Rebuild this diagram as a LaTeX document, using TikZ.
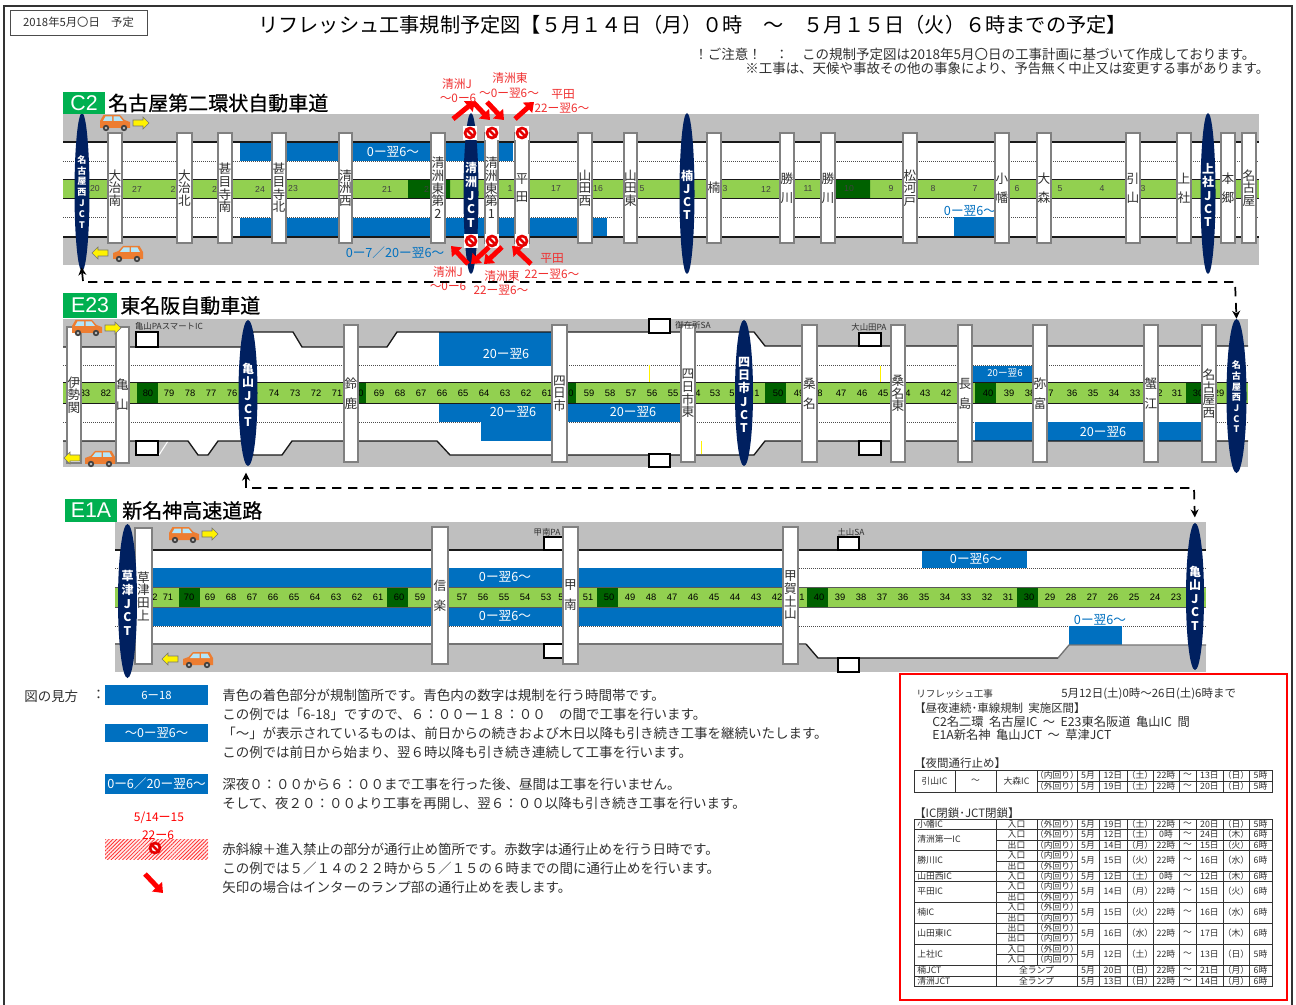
\documentclass[tikz,border=0pt]{standalone}
\usepackage{fontspec}
\setmainfont{Noto Sans CJK JP}
\newfontfamily\lib{Liberation Sans}
\newfontfamily\titlef[FakeBold=0.6]{Noto Sans CJK JP}
\usetikzlibrary{shapes.geometric,arrows.meta,patterns.meta}
\definecolor{panelgray}{HTML}{BFBFBF}
\definecolor{roadblue}{HTML}{0070C0}
\definecolor{bandgreen}{HTML}{92D050}
\definecolor{darkgreen}{HTML}{006100}
\definecolor{jctnavy}{HTML}{002060}
\definecolor{tagreen}{HTML}{00B050}
\definecolor{carorange}{HTML}{ED7D31}
\definecolor{redtxt}{HTML}{F03030}
\definecolor{txtc}{HTML}{303030}
\newcounter{nd}
\tikzset{
 txt/.style={inner sep=0pt,text=txtc,font=\fontsize{10.12}{12}\selectfont},
 postbox/.style={rectangle,draw=black!50,fill=white,line width=.9pt,inner sep=0pt,align=center,text=txtc,execute at begin node={\lineskiplimit=-20pt\relax}},
 jctshape/.style={ellipse,fill=jctnavy,inner sep=0pt,draw=none},
 jcttext/.style={inner sep=0pt,align=center,text=white,execute at begin node={\lineskiplimit=-20pt\relax}},
 numtxt/.style={txt,font=\lib\fontsize{7}{8}\selectfont,text=black},
 numsmall/.style={txt,font=\lib\fontsize{6.5}{8}\selectfont,text=black!75},
 bluetxt/.style={txt,text=white,font=\fontsize{9.5}{11}\selectfont},
 bluetxts/.style={txt,text=white,font=\fontsize{7.2}{9}\selectfont},
 bluelab/.style={txt,text=roadblue,font=\fontsize{9.5}{11}\selectfont},
 redlab/.style={txt,text=redtxt,font=\fontsize{8.8}{10}\selectfont},
 palab/.style={txt,font=\fontsize{6.3}{8}\selectfont},
 tagtxt/.style={txt,text=white,font=\lib\fontsize{16}{18}\selectfont},
 titletxt/.style={txt,anchor=west,text=black,font=\titlef\fontsize{15}{18}\selectfont},
 legtxt/.style={txt,anchor=west},
 boxtxt/.style={txt,anchor=west,font=\fontsize{8.6}{10}\selectfont},
 cell/.style={txt,font=\fontsize{6.6}{7}\selectfont},
 tline/.style={line width=.45pt,draw=black!80},
 roadline/.style={line width=1pt,draw=black!90},
 dotline/.style={line width=.5pt,densely dotted,draw=black!70},
 sabox/.style={fill=white,draw=black,line width=1pt},
 dashlink/.style={line width=1.3pt,dash pattern=on 7pt off 5pt,draw=black},
 solidlink/.style={line width=1.3pt,draw=black,-{Stealth[length=6pt,width=6pt]}},
 fatarrow/.style={line width=3.7pt,draw=red,-{Triangle[width=10pt,length=6.5pt]}},
}
\newcommand\tx[3][]{\stepcounter{nd}\node[txt,#1] (t\arabic{nd}) at (#2) {#3};}
\newcommand\post[7]{\node[postbox,minimum width={(#3-#2)*0.75pt},minimum height={(#5-#4)*0.75pt},font=\fontsize{9.5}{#6}\selectfont] (#1) at ({(#2+#3)/2},{(#4+#5)/2}) {#7};}
\newcommand\jct[9]{\node[jctshape,minimum width={#4*0.75pt},minimum height={#5*0.75pt}] (#1) at (#2,#3) {};
 \node[jcttext,font=\bfseries\fontsize{#7}{#8}\selectfont] (#1t) at (#2,#6) {#9};}
\newcommand\car[3]{\begin{scope}[shift={(#1,#2)},xscale=#3]
 \fill[carorange] (-15,6)--(-15,-1)--(-11.5,-7)--(5,-7)--(9.5,-2)--(15,0)--(15,6)--cycle;
 \fill[cyan!30] (-12,-1)--(-9.5,-5.5)--(-3,-5.5)--(-3,-1)--cycle;
 \fill[cyan!30] (-1.5,-1)--(-1.5,-5.5)--(4.5,-5.5)--(8,-1)--cycle;
 \foreach \cx in {-9,9}{\fill[black!75] (\cx,6) circle (3.2);\fill[black!25] (\cx,6) circle (1.3);}
 \end{scope}}
\newcommand\yarrow[3]{\begin{scope}[shift={(#1,#2)},xscale=#3]
 \draw[black!55,fill=yellow,line width=.4pt] (-8,-3)--(2,-3)--(2,-6)--(8,0)--(2,6)--(2,3)--(-8,3)--cycle;
 \end{scope}}
\newcommand\noentry[2]{\begin{scope}[shift={(#1,#2)}]
 \fill[white] (-7,-7) rectangle (7,7);
 \draw[red!90!black,line width=2pt,fill=white] (0,0) circle (5);
 \draw[red!90!black,line width=2pt] (-3.6,-3.6)--(3.6,3.6);
 \end{scope}}
\newcommand\redarrow[2]{\stepcounter{nd}\coordinate (ra\arabic{nd}) at (#1);\coordinate (rb\arabic{nd}) at (#2);\draw[fatarrow] (ra\arabic{nd})--(rb\arabic{nd});}
\newcommand\dates[8]{\tx[cell]{1088,#1}{#2}\tx[cell]{1113,#1}{#3}\tx[cell]{1140,#1}{（#4）}\tx[cell]{1166,#1}{#5}\tx[cell]{1187.5,#1}{〜}\tx[cell]{1209.5,#1}{#6}\tx[cell]{1236,#1}{（#7）}\tx[cell]{1260.5,#1}{#8}}
\newcommand\ramp[3]{\tx[cell]{1016.5,#1}{#2}\tx[cell]{1057,#1}{（#3）}}
\begin{document}
\begin{tikzpicture}[x=0.75pt,y=-0.75pt]
\useasboundingbox (0,0) rectangle (1296,1005);
\fill[white] (0,0) rectangle (1296,1005);
\draw[black!80,line width=1.2pt] (4,1005)--(4,6)--(1292,6)--(1292,1005);
% header
\node[rectangle,draw=black!70,line width=.5pt,minimum width=102.75pt,minimum height=18.75pt,inner sep=0pt,font=\fontsize{8.5}{10}\selectfont,text=txtc] (datebox) at (78.5,22.5) {2018年5月〇日　予定};
\tx[font=\fontsize{15.15}{18}\selectfont,anchor=west,text=black]{258,25}{リフレッシュ工事規制予定図【５月１４日（月）０時　〜　５月１５日（火）６時までの予定】}
\tx[legtxt]{694,54}{！ご注意！　：　この規制予定図は2018年5月〇日の工事計画に基づいて作成しております。}
\tx[legtxt]{745,68}{※工事は、天候や事故その他の事象により、予告無く中止又は変更する事があります。}
%%%%% C2
\fill[panelgray] (63,114) rectangle (1259,265);
\fill[white] (63,142) rectangle (1259,237);
\draw[dotline] (63,161)--(1259,161) (63,217)--(1259,217);
\fill[roadblue] (240,142) rectangle (513,161);
\fill[roadblue] (240,218) rectangle (607,237);
\fill[roadblue] (954,217) rectangle (996,236);
\draw[roadline] (63,142)--(1259,142) (63,237)--(1259,237);
\fill[bandgreen] (63,180) rectangle (1259,198);
\fill[darkgreen] (408,180) rectangle (450,198) (836,180) rectangle (870,198);
\draw[roadline] (63,179.5)--(1259,179.5) (63,198.5)--(1259,198.5);
\foreach \n/\xx in {20/95,27/137,2/173,2/214.5,24/260,23/293,21/387,2/426.5,1/510,17/556,16/598,5/642,3/725,12/766,11/808,10/849,9/891,8/933,7/975,6/1017,5/1060,4/1102,3/1143}{\tx[numsmall]{\xx,189}{\n}}
\tx[bluetxt]{393,152}{0ー翌6〜}
\tx[bluelab]{395,253}{0ー7／20ー翌6〜}
\tx[bluelab]{970,211}{0ー翌6〜}
\post{cA}{108}{122}{133}{243}{9.5pt}{大\\治\\南}
\post{cB}{177}{192}{133}{243}{9.5pt}{大\\治\\北}
\post{cC}{218}{232}{133}{243}{9.5pt}{甚\\目\\寺\\南}
\post{cD}{272}{286}{133}{243}{9.5pt}{甚\\目\\寺\\北}
\post{cE}{339}{352}{133}{243}{9.5pt}{清\\洲\\西}
\post{cF}{431}{445}{133}{243}{9.5pt}{清\\洲\\東\\第\\2}
\post{cG}{485}{498}{133}{243}{9.5pt}{清\\洲\\東\\第\\1}
\post{cH}{515}{529}{133}{243}{14pt}{平\\田}
\post{cI}{578}{592}{133}{243}{9.5pt}{山\\田\\西}
\post{cJ}{624}{637}{133}{243}{9.5pt}{山\\田\\東}
\post{cK}{707}{721}{133}{243}{9.5pt}{楠}
\post{cL}{780}{794}{133}{243}{14pt}{勝\\川}
\post{cM}{821}{835}{133}{243}{14pt}{勝\\川}
\post{cN}{903}{917}{133}{243}{9.5pt}{松\\河\\戸}
\post{cO}{995}{1009}{133}{243}{14pt}{小\\幡}
\post{cP}{1037}{1051}{133}{243}{14pt}{大\\森}
\post{cQ}{1126}{1140}{133}{243}{14pt}{引\\山}
\post{cR}{1177}{1191}{133}{243}{14pt}{上\\社}
\post{cS}{1221}{1235}{133}{243}{14pt}{本\\郷}
\post{cT}{1242}{1256}{133}{243}{9.5pt}{名\\古\\屋}
\jct{cwest}{82}{192}{15}{158}{192}{6.8}{8.2pt}{名\\古\\屋\\西\\J\\C\\T}
\jct{ckiyosu}{471}{193.5}{15}{161}{195}{9}{10.4pt}{清\\洲\\J\\C\\T}
\jct{ckusu}{687}{193.5}{15}{161}{195}{9}{9.9pt}{楠\\J\\C\\T}
\jct{ckami}{1208}{193.5}{15}{161}{195}{9}{10.1pt}{上\\社\\J\\C\\T}
\foreach \px in {470,492,522}{\noentry{\px}{133}}
\foreach \px in {471,492,522}{\noentry{\px}{241}}
\redarrow{453,119}{475,101}
\redarrow{473,102}{490,120}
\redarrow{487,102}{504,120}
\redarrow{515,119}{534,102}
\redarrow{468,264}{451,246}
\redarrow{489,247}{471,264}
\redarrow{502,247}{484,264}
\redarrow{531,264}{512,246}
\tx[redlab]{457,84}{清洲J}
\tx[redlab]{458,98}{〜0ー6}
\tx[redlab]{510,78}{清洲東}
\tx[redlab]{509,93}{〜0ー翌6〜}
\tx[redlab]{563,94}{平田}
\tx[redlab]{562,108}{22ー翌6〜}
\tx[redlab]{448,272}{清洲J}
\tx[redlab]{448,286}{〜0ー6}
\tx[redlab]{502,276}{清洲東}
\tx[redlab]{501,290}{22ー翌6〜}
\tx[redlab]{552,258}{平田}
\tx[redlab]{552,274}{22ー翌6〜}
\fill[tagreen] (63,92) rectangle (105,114);
\tx[tagtxt]{84,103}{C2}
\tx[titletxt]{108,103}{名古屋第二環状自動車道}
\car{115}{122}{1}
\yarrow{141}{123}{1}
\yarrow{100}{253}{-1}
\car{128}{253}{-1}
%%%%% E23
\fill[panelgray] (63,319) rectangle (1248,467);
\fill[white] (63,347)--(243,347)--(253,332)--(293,332)--(302,347)--(387,347)--(397,332)--(754,332)--(765,346)--(1248,346)--(1248,441)--(765,441)--(754,455)--(450,455)--(437,441)--(292,441)--(282,455)--(253,455)--(243,441)--(218,441)--(208,455)--(198,455)--(188,441)--(63,441)--cycle;
\draw[white,line width=.8pt] (159,455)--(168,441);
\draw[dotline] (63,365)--(1248,365) (63,422)--(1248,422);
\fill[roadblue] (439,332) rectangle (552,366);
\fill[roadblue] (439,403) rectangle (552,422);
\fill[roadblue] (481,422) rectangle (552,441);
\fill[roadblue] (567,403) rectangle (681,422);
\fill[roadblue] (972,366) rectangle (1033,383);
\fill[roadblue] (975,422) rectangle (1202,441);
\draw[yellow,line width=.7pt] (649,365)--(649,382) (701,441)--(701,454) (880,366)--(880,383);
\draw[roadline] (63,347)--(243,347)--(253,332)--(293,332)--(302,347)--(387,347)--(397,332)--(754,332)--(765,346)--(1248,346);
\draw[roadline] (63,441)--(188,441)--(198,455)--(208,455)--(218,441)--(243,441)--(253,455)--(282,455)--(292,441)--(437,441)--(450,455)--(754,455)--(765,441)--(1248,441);
\fill[bandgreen] (63,383) rectangle (1248,403);
\foreach \dx in {137,345,555,765,975,1186}{\fill[darkgreen] (\dx,383) rectangle ++(21,20);}
\draw[roadline] (63,382.5)--(1248,382.5) (63,403.5)--(1248,403.5);
\foreach \n in {83,82,80,79,78,77,76,74,73,72,71,69,68,67,66,65,64,63,62,61,59,58,57,56,55,53,50,49,47,46,45,43,42,40,39,38,36,35,34,33,31,30,29}{\pgfmathtruncatemacro\xx{148+21*(80-\n)}\tx[numtxt]{\xx,393}{\n}}
\foreach \n/\xx in {0/361,0/571,4/698,5/732,1/757,8/820,4/908,7/1051,2/1160}{\tx[numtxt]{\xx,393}{\n}}
\node[sabox,minimum width=16.5pt,minimum height=11.25pt,inner sep=0pt] (sa1) at (147,339.5) {};
\node[sabox,minimum width=16.5pt,minimum height=10.5pt,inner sep=0pt] (sa2) at (147,448) {};
\node[sabox,minimum width=15.75pt,minimum height=10.5pt,inner sep=0pt] (sa3) at (659.5,326) {};
\node[sabox,minimum width=15.75pt,minimum height=9.75pt,inner sep=0pt] (sa4) at (659.5,460.5) {};
\node[sabox,minimum width=16.5pt,minimum height=9.75pt,inner sep=0pt] (sa5) at (870,339.5) {};
\node[sabox,minimum width=16.5pt,minimum height=10.5pt,inner sep=0pt] (sa6) at (870,448) {};
\tx[bluetxt]{506,354}{20ー翌6}
\tx[bluetxt]{513,412}{20ー翌6}
\tx[bluetxt]{633,412}{20ー翌6}
\tx[bluetxts]{1005,373}{20ー翌6}
\tx[bluetxt]{1103,432}{20ー翌6}
\post{eA}{67}{81}{327}{463}{9.5pt}{伊\\勢\\関}
\post{eB}{116}{129}{327}{463}{15pt}{亀\\山}
\post{eC}{344}{358}{325}{462}{15pt}{鈴\\鹿}
\post{eD}{552}{567}{325}{462}{9.5pt}{四\\日\\市}
\post{eE}{681}{695}{325}{462}{9.5pt}{四\\日\\市\\東}
\post{eF}{802}{817}{325}{462}{15pt}{桑\\名}
\post{eG}{891}{905}{325}{462}{9.5pt}{桑\\名\\東}
\post{eH}{958}{972}{325}{462}{15pt}{長\\島}
\post{eI}{1033}{1047}{325}{462}{15pt}{弥\\富}
\post{eJ}{1144}{1158}{325}{462}{15pt}{蟹\\江}
\post{eK}{1202}{1216}{325}{462}{9.5pt}{名\\古\\屋\\西}
\jct{ekame}{248}{393}{19}{146}{395}{9}{10pt}{亀\\山\\J\\C\\T}
\jct{eyokk}{744}{393}{18}{146}{395}{9}{10pt}{四\\日\\市\\J\\C\\T}
\jct{ewest}{1236.5}{396}{20}{154}{397}{6.8}{8pt}{名\\古\\屋\\西\\J\\C\\T}
\fill[tagreen] (63,293) rectangle (117,318);
\tx[tagtxt]{90,305.5}{E23}
\tx[titletxt]{120,305.5}{東名阪自動車道}
\tx[palab]{169,326}{亀山PAスマートIC}
\tx[palab]{693,325}{御在所SA}
\tx[palab]{869,327}{大山田PA}
\car{87}{327}{1}
\yarrow{113}{328}{1}
\yarrow{72}{458}{-1}
\car{100}{458}{-1}
%%%%% E1A
\fill[panelgray] (115,522) rectangle (1206,672);
\fill[white] (115,550)--(1206,550)--(1206,645)--(1069,645)--(1058,658)--(818,658)--(806,644)--(115,644)--cycle;
\draw[dotline] (115,568)--(1206,568) (115,626)--(1206,626);
\fill[roadblue] (130,568) rectangle (783,588);
\fill[roadblue] (130,607) rectangle (783,626);
\fill[roadblue] (922,550) rectangle (1027,568);
\fill[roadblue] (1069,626) rectangle (1122,645);
\draw[roadline] (115,550)--(1206,550);
\draw[roadline,draw=black!55] (115,644)--(806,644);
\draw[roadline] (806,644)--(818,658)--(1058,658);
\draw[roadline,draw=black!55] (1058,658)--(1069,645)--(1206,645);
\fill[bandgreen] (115,588) rectangle (1206,607);
\foreach \dx in {179,387,597,807,1017}{\fill[darkgreen] (\dx,588) rectangle ++(20.5,19);}
\draw[roadline,draw=black!65,line width=1.4pt] (115,587.5)--(1206,587.5) (115,607.5)--(1206,607.5);
\foreach \n in {71,70,69,68,67,66,65,64,63,62,61,60,59,57,56,55,54,53,51,50,49,48,47,46,45,44,43,42,40,39,38,37,36,35,34,33,32,31,30,29,28,27,26,25,24,23}{\pgfmathtruncatemacro\xx{189+21*(70-\n)}\tx[numtxt]{\xx,597}{\n}}
\foreach \n/\xx in {2/155,5/561,1/802}{\tx[numtxt]{\xx,597}{\n}}
\node[sabox,minimum width=18.75pt,minimum height=9.75pt,inner sep=0pt] (sa7) at (556.5,543.5) {};
\node[sabox,minimum width=18.75pt,minimum height=10.5pt,inner sep=0pt] (sa8) at (556.5,651) {};
\node[sabox,minimum width=15.75pt,minimum height=9.75pt,inner sep=0pt] (sa9) at (848.5,543.5) {};
\node[sabox,minimum width=15.75pt,minimum height=10.5pt,inner sep=0pt] (sa10) at (848.5,665) {};
\tx[bluetxt]{505,577}{0ー翌6〜}
\tx[bluetxt]{505,616}{0ー翌6〜}
\tx[bluetxt]{976,559}{0ー翌6〜}
\tx[bluelab]{1100,620}{0ー翌6〜}
\post{fA}{135}{152}{528}{664}{9.5pt}{草\\津\\田\\上}
\post{fB}{432}{448}{527}{664}{15pt}{信\\楽}
\post{fC}{563}{578}{527}{664}{15pt}{甲\\南}
\post{fD}{783}{798}{527}{664}{9.5pt}{甲\\賀\\土\\山}
\jct{fkusa}{127.5}{601}{19}{154}{603}{9}{10.2pt}{草\\津\\J\\C\\T}
\jct{fkame}{1195}{596.5}{18}{147}{598}{9}{10.1pt}{亀\\山\\J\\C\\T}
\fill[tagreen] (65,499) rectangle (117,522);
\tx[tagtxt]{91,510.5}{E1A}
\tx[titletxt]{122,510.5}{新名神高速道路}
\tx[palab]{547,532}{甲南PA}
\tx[palab]{851,532}{土山SA}
\car{184}{534}{1}
\yarrow{210}{534}{1}
\yarrow{170}{659}{-1}
\car{198}{659}{-1}
%%%%% connectors
\coordinate (bendA) at (1235,282);
\coordinate (bendB) at (88,282);
\coordinate (bendC) at (83,281);
\draw[dashlink,-{Stealth[length=6pt,width=6pt]}] (bendB)--(bendA)--(ewest.north);
\draw[solidlink,shorten >=-3pt] (bendC)--(cwest.south);
\coordinate (bendD) at (1194,488);
\coordinate (bendE) at (252,488);
\coordinate (bendF) at (246,488);
\draw[dashlink,-{Stealth[length=6pt,width=6pt]},shorten >=4pt] (bendE)--(bendD)--(fkame.north);
\draw[solidlink,shorten >=5pt] (bendF)--(246,466);
%%%%% legend
\tx[legtxt]{24,696}{図の見方}
\tx[legtxt]{91.5,695}{：}
\node[rectangle,fill=roadblue,minimum width=77.25pt,minimum height=15pt,inner sep=0pt,text=white,font=\fontsize{8.5}{10}\selectfont] (legA) at (156.5,695) {6ー18};
\node[rectangle,fill=roadblue,minimum width=77.25pt,minimum height=13.5pt,inner sep=0pt,text=white,font=\fontsize{9.3}{10}\selectfont] (legB) at (156.5,733) {〜0ー翌6〜};
\node[rectangle,fill=roadblue,minimum width=77.25pt,minimum height=15pt,inner sep=0pt,text=white,font=\fontsize{9.5}{10}\selectfont] (legC) at (156.5,784) {0ー6／20ー翌6〜};
\fill[red!8] (105,839) rectangle (208,859);
\fill[pattern={Lines[angle=45,distance=2pt,line width=.6pt]},pattern color=red!80] (105,839) rectangle (208,859);
\tx[txt,text=red,font=\fontsize{9}{10}\selectfont]{159,818}{5/14ー15}
\tx[txt,text=red,font=\fontsize{9}{10}\selectfont]{158,835}{22ー6}
\begin{scope}[shift={(155,848)}]
 \draw[red!90!black,line width=2pt,fill=white] (0,0) circle (5);
 \draw[red!90!black,line width=2pt] (-3.6,-3.6)--(3.6,3.6);
\end{scope}
\redarrow{145,874}{163,893}
\tx[legtxt]{222,695}{青色の着色部分が規制箇所です。青色内の数字は規制を行う時間帯です。}
\tx[legtxt]{222,714}{この例では「6-18」ですので、６：００ー１８：００　の間で工事を行います。}
\tx[legtxt]{222,733}{「〜」が表示されているものは、前日からの続きおよび木日以降も引き続き工事を継続いたします。}
\tx[legtxt]{222,752}{この例では前日から始まり、翌６時以降も引き続き連続して工事を行います。}
\tx[legtxt]{222,784}{深夜０：００から６：００まで工事を行った後、昼間は工事を行いません。}
\tx[legtxt]{222,803}{そして、夜２０：００より工事を再開し、翌６：００以降も引き続き工事を行います。}
\tx[legtxt]{222,849}{赤斜線＋進入禁止の部分が通行止め箇所です。赤数字は通行止めを行う日時です。}
\tx[legtxt]{222,868}{この例では５／１４の２２時から５／１５の６時までの間に通行止めを行います。}
\tx[legtxt]{222,887}{矢印の場合はインターのランプ部の通行止めを表します。}
%%%%% red box
\draw[red,line width=1.5pt] (900,674) rectangle (1287,1000);
\tx[boxtxt,font=\fontsize{7.2}{9}\selectfont]{916,694}{リフレッシュ工事}
\tx[boxtxt]{1061,694}{5月12日(土)0時〜26日(土)6時まで}
\tx[boxtxt]{914,708}{【昼夜連続･車線規制\ \ 実施区間】}
\tx[boxtxt,font=\fontsize{9.2}{10}\selectfont]{932,722}{C2名二環\ \ 名古屋IC\ \ 〜\ \ E23東名阪道\ \ 亀山IC\ \ 間}
\tx[boxtxt,font=\fontsize{9.2}{10}\selectfont]{932,735}{E1A新名神\ \ 亀山JCT\ \ 〜\ \ 草津JCT}
\tx[boxtxt]{914,763}{【夜間通行止め】}
\tx[boxtxt]{914,813}{【IC閉鎖･JCT閉鎖】}
% table 1
\draw[tline] (914,770) rectangle (1272,792);
\draw[tline] (1037,781)--(1272,781);
\foreach \vx in {955,996,1037,1077,1099,1127,1153,1179,1196,1223,1249}{\draw[tline] (\vx,770)--(\vx,792);}
\tx[cell]{934.5,781}{引山IC}\tx[cell]{975.5,781}{〜}\tx[cell]{1016.5,781}{大森IC}
\tx[cell]{1057,775.5}{（内回り）}\dates{775.5}{5月}{12日}{土}{22時}{13日}{日}{5時}
\tx[cell]{1057,786.5}{（外回り）}\dates{786.5}{5月}{19日}{土}{22時}{20日}{日}{5時}
% table 2
\draw[tline] (914,819) rectangle (1272,986);
\foreach \hy in {829,850,871,881,902,923,944,965,976}{\draw[tline] (914,\hy)--(1272,\hy);}
\draw[tline] (996,840)--(1272,840);
\foreach \hy in {861,892,913,933,954}{\draw[tline] (996,\hy)--(1077,\hy);}
\foreach \vx in {996,1077,1099,1127,1153,1179,1196,1223,1249}{\draw[tline] (\vx,819)--(\vx,986);}
\draw[tline] (1037,819)--(1037,965);
\tx[cell,anchor=west]{917,824}{小幡IC}\ramp{824}{入口}{外回り}\dates{824}{5月}{19日}{土}{22時}{20日}{日}{5時}
\tx[cell,anchor=west]{917,839.5}{清洲第一IC}
\ramp{834.5}{入口}{外回り}\dates{834.5}{5月}{12日}{土}{0時}{24日}{木}{6時}
\ramp{845}{出口}{内回り}\dates{845}{5月}{14日}{月}{22時}{15日}{火}{6時}
\tx[cell,anchor=west]{917,860.5}{勝川IC}\ramp{855.5}{入口}{内回り}\ramp{866}{出口}{外回り}\dates{860.5}{5月}{15日}{火}{22時}{16日}{水}{6時}
\tx[cell,anchor=west]{917,876}{山田西IC}\ramp{876}{入口}{内回り}\dates{876}{5月}{12日}{土}{0時}{12日}{木}{6時}
\tx[cell,anchor=west]{917,891.5}{平田IC}\ramp{886.5}{入口}{内回り}\ramp{897}{出口}{外回り}\dates{891.5}{5月}{14日}{月}{22時}{15日}{火}{6時}
\tx[cell,anchor=west]{917,912.5}{楠IC}\ramp{907.5}{入口}{外回り}\ramp{918}{出口}{内回り}\dates{912.5}{5月}{15日}{火}{22時}{16日}{水}{6時}
\tx[cell,anchor=west]{917,933.5}{山田東IC}\ramp{928}{出口}{外回り}\ramp{938.5}{出口}{内回り}\dates{933.5}{5月}{16日}{水}{22時}{17日}{木}{6時}
\tx[cell,anchor=west]{917,954.5}{上社IC}\ramp{949}{入口}{外回り}\ramp{959.5}{入口}{内回り}\dates{954.5}{5月}{12日}{土}{22時}{13日}{日}{5時}
\tx[cell,anchor=west]{917,970.5}{楠JCT}\tx[cell]{1036.5,970.5}{全ランプ}\dates{970.5}{5月}{20日}{日}{22時}{21日}{月}{6時}
\tx[cell,anchor=west]{917,981}{清洲JCT}\tx[cell]{1036.5,981}{全ランプ}\dates{981}{5月}{13日}{日}{22時}{14日}{月}{6時}
\end{tikzpicture}
\end{document}
